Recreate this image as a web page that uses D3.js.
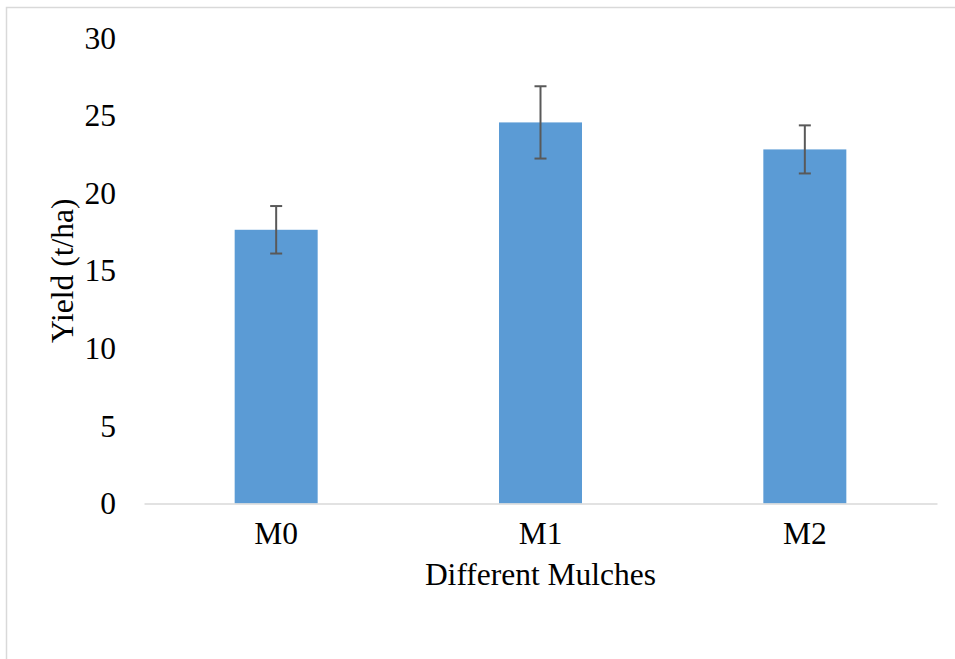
<!DOCTYPE html>
<html>
<head>
<meta charset="utf-8">
<script src="https://cdn.jsdelivr.net/npm/d3@7"></script>
<style>
  html, body { margin: 0; padding: 0; background: #fff; }
  svg { display: block; }
  svg text { font-family: "Liberation Serif", "Times New Roman", Tinos, "DejaVu Serif", serif; }
</style>
</head>
<body>
<svg id="chart" width="955" height="659"></svg>
<script>
const categories = ["M0", "M1", "M2"];
const yieldValues = [17.64, 24.56, 22.82];
const errorValues = [1.53, 2.33, 1.55];
const yTicks = [0, 5, 10, 15, 20, 25, 30];
const xTitle = "Different Mulches";
const yTitle = "Yield (t/ha)";

(function () {
const svg = d3.select("#chart");
const font = "\"Liberation Serif\", \"Times New Roman\", Tinos, \"DejaVu Serif\", serif";
const fs = "31.5px";

// outer frame (only top and left edges visible)
svg.append("rect")
  .attr("x", 6.5).attr("y", 7.5)
  .attr("width", 1200).attr("height", 1000)
  .attr("fill", "none").attr("stroke", "#d9d9d9").attr("stroke-width", 1.5);

const pLeft = 144, pRight = 937, pTop = 38, pBottom = 503.5;

const x = d3.scaleBand().domain(categories).range([pLeft, pRight])
  .paddingInner(0.686).paddingOuter(0.343);
const y = d3.scaleLinear().domain([0, 30]).range([pBottom, pTop]);

// y tick labels
const yAxis = d3.axisLeft(y).tickValues(yTicks).tickSize(0).tickPadding(28);
const gy = svg.append("g").attr("transform", `translate(${pLeft},0)`).call(yAxis);
gy.attr("font-family", null).attr("font-size", null);
gy.select(".domain").remove();
gy.selectAll("text").style("font-family", font).style("font-size", fs).attr("fill", "#000");

// bars
svg.append("g").selectAll("rect").data(categories).join("rect")
  .attr("x", d => x(d))
  .attr("y", (d, i) => y(yieldValues[i]))
  .attr("width", x.bandwidth())
  .attr("height", (d, i) => y(0) - y(yieldValues[i]))
  .attr("fill", "#5B9BD5");

// x axis
const xAxis = d3.axisBottom(x).tickSize(0).tickPadding(18);
const gx = svg.append("g").attr("transform", `translate(0,${pBottom})`).call(xAxis);
gx.attr("font-family", null).attr("font-size", null);
gx.select(".domain").attr("stroke", "#d9d9d9").attr("stroke-width", 1.5);
gx.selectAll("text").style("font-family", font).style("font-size", fs).attr("fill", "#000");

// error bars
const eg = svg.append("g").attr("stroke", "#595959").attr("stroke-width", 2).attr("fill", "none");
categories.forEach((c, i) => {
  const cx = x(c) + x.bandwidth() / 2;
  const hi = y(yieldValues[i] + errorValues[i]);
  const lo = y(yieldValues[i] - errorValues[i]);
  eg.append("line").attr("x1", cx).attr("x2", cx).attr("y1", hi).attr("y2", lo);
  eg.append("line").attr("x1", cx - 6).attr("x2", cx + 6).attr("y1", hi).attr("y2", hi);
  eg.append("line").attr("x1", cx - 6).attr("x2", cx + 6).attr("y1", lo).attr("y2", lo);
});

// axis titles
svg.append("text")
  .attr("x", (pLeft + pRight) / 2).attr("y", 585)
  .attr("text-anchor", "middle")
  .style("font-family", font).style("font-size", fs).attr("fill", "#000")
  .text(xTitle);

svg.append("text")
  .attr("transform", `translate(73,${(pTop + pBottom) / 2}) rotate(-90)`)
  .attr("text-anchor", "middle")
  .style("font-family", font).style("font-size", fs).attr("fill", "#000")
  .text(yTitle);
})();
</script>
</body>
</html>
